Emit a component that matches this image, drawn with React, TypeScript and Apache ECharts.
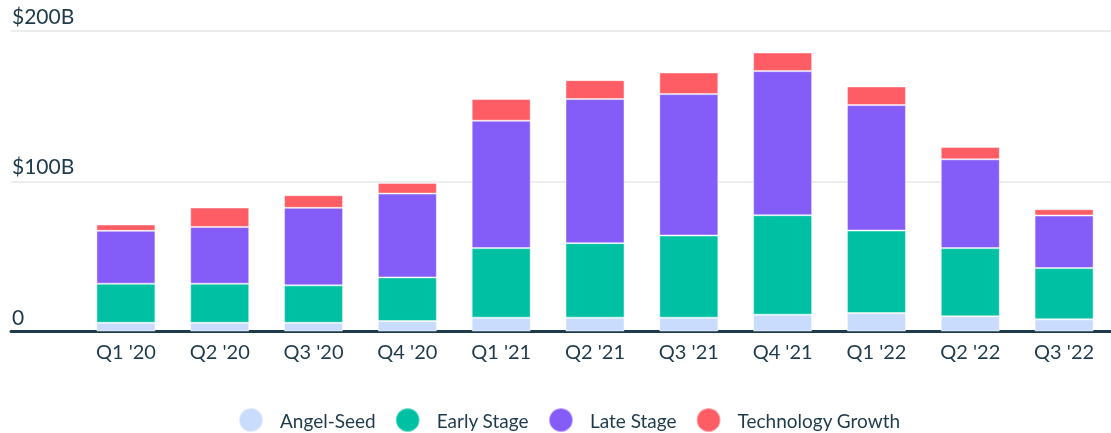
import React, { useEffect, useRef } from "react";
import * as echarts from "echarts";

const categories = ["Q1 '20", "Q2 '20", "Q3 '20", "Q4 '20", "Q1 '21", "Q2 '21", "Q3 '21", "Q4 '21", "Q1 '22", "Q2 '22", "Q3 '22"];
const angelSeed = [5.8, 5.8, 5.8, 7.0, 9.2, 9.2, 9.2, 11.2, 12.3, 10.1, 8.1];
const earlyStage = [26.0, 26.0, 24.9, 29.0, 46.3, 49.6, 54.7, 66.2, 54.9, 45.4, 34.1];
const lateStage = [35.2, 37.8, 51.6, 55.8, 84.8, 95.9, 94.1, 95.9, 83.5, 59.1, 35.0];
const techGrowth = [4.2, 12.9, 8.4, 7.1, 14.4, 12.6, 14.4, 12.4, 12.4, 8.2, 4.2];
const yTickLabels: Record<number, string> = { 0: "0", 100: "$100B", 200: "$200B" };

const seriesNames = ["Angel-Seed", "Early Stage", "Late Stage", "Technology Growth"];
const seriesColors = ["#c9dcfe", "#00c0a4", "#845df9", "#ff5d65"];
const seriesData = [angelSeed, earlyStage, lateStage, techGrowth];

const FONT = "Lato";
const TEXT = "#1e3a4b";

export default function App() {
  const ref = useRef<HTMLDivElement>(null);
  useEffect(() => {
    if (!ref.current) return;
    const chart = echarts.init(ref.current, undefined, { renderer: "svg" });
    const top = 31;
    const bottom = 433 - 331.5;
    chart.setOption({
      animation: false,
      textStyle: { fontFamily: FONT },
      grid: [
        { left: 11, right: 0, top, bottom },
        { left: 79, width: 1045, top, bottom },
      ],
      legend: {
        left: 238,
        top: 407,
        padding: 0,
        itemWidth: 24,
        itemHeight: 24,
        itemGap: 19,
        icon: "circle",
        data: seriesNames,
        textStyle: {
          fontFamily: FONT,
          fontSize: 19,
          color: TEXT,
          rich: {
            t: { padding: [0, 0, 0, 12], lineHeight: 24, verticalAlign: "middle", fontFamily: FONT, fontSize: 19, color: TEXT },
          },
        },
        formatter: (n: string) => `{t|${n}}`,
      },
      xAxis: [
        {
          gridIndex: 0,
          type: "value",
          min: 0,
          max: 1,
          axisLine: { show: true, onZero: false, lineStyle: { color: "#1e3a4b", width: 3 } },
          axisTick: { show: false },
          axisLabel: { show: false },
          splitLine: { show: false },
        },
        {
          gridIndex: 1,
          type: "category",
          data: categories,
          axisLine: { show: false },
          axisTick: { show: false },
          axisLabel: { color: TEXT, fontFamily: FONT, fontSize: 20, margin: 9 },
        },
      ],
      yAxis: [
        {
          gridIndex: 0,
          type: "value",
          min: 0,
          max: 200,
          interval: 100,
          axisLine: { show: false },
          axisTick: { show: false },
          splitLine: { show: true, lineStyle: { color: "#eceeee", width: 2 } },
          axisLabel: {
            inside: true,
            margin: 1,
            align: "left",
            verticalAlign: "bottom",
            padding: [0, 0, 5, 0],
            color: TEXT,
            fontFamily: FONT,
            fontSize: 21,
            formatter: (v: number) => yTickLabels[v] ?? "",
          },
        },
        { gridIndex: 1, type: "value", min: 0, max: 200, show: false },
      ],
      series: seriesNames.map((name, i) => ({
        name,
        type: "bar",
        stack: "total",
        xAxisIndex: 1,
        yAxisIndex: 1,
        barWidth: 59,
        data: seriesData[i],
        itemStyle: { color: seriesColors[i], borderColor: "rgba(255,255,255,0.45)", borderWidth: 1 },
        emphasis: { disabled: true },
      })),
    });
    return () => chart.dispose();
  }, []);
  return <div ref={ref} style={{ position: "fixed", left: 0, top: 0, width: 1111, height: 433 }} />;
}
